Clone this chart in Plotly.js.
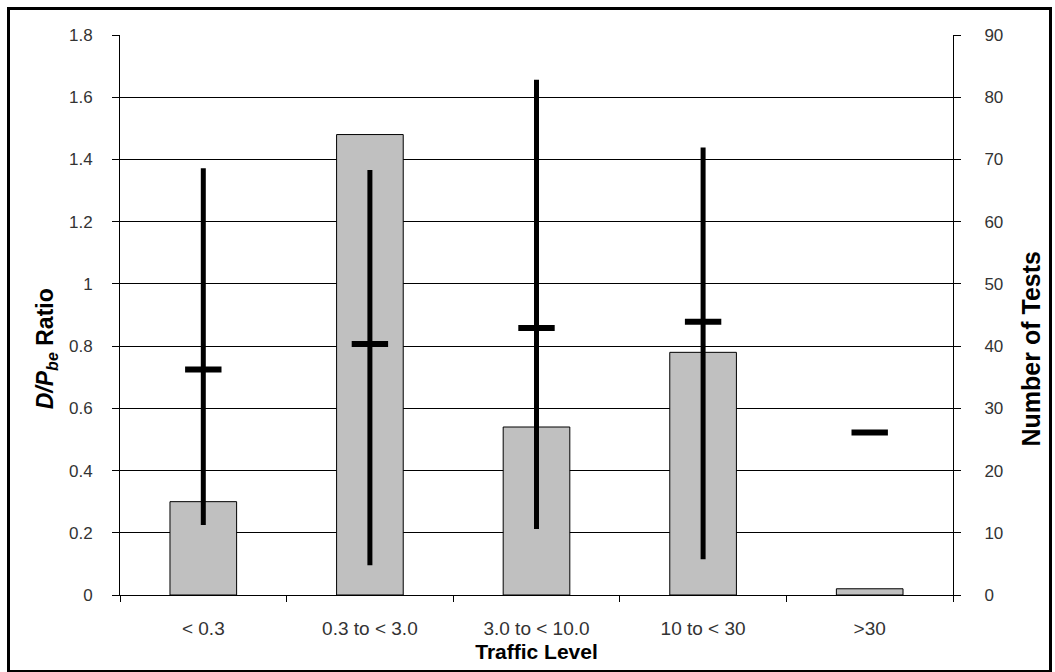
<!DOCTYPE html>
<html>
<head>
<meta charset="utf-8">
<script src="https://cdn.plot.ly/plotly-3.0.1.min.js"></script>
<style>
  html, body { margin: 0; padding: 0; background: #fff; }
  #wrap { position: relative; width: 1055px; height: 672px; }
  #chart { position: absolute; left: 0; top: 0; width: 1055px; height: 672px; }
  #frame { position: absolute; left: 7px; top: 7px; width: 1039px; height: 660px; border: 3px solid #000; pointer-events: none; }
</style>
</head>
<body>
<div id="wrap">
  <div id="chart"></div>
  <div id="frame"></div>
</div>
<script>
const categories = ['< 0.3', '0.3 to < 3.0', '3.0 to < 10.0', '10 to < 30', '>30'];
const numTests = [15, 74, 27, 39, 1];
const ratioMean = [0.725, 0.807, 0.858, 0.878, 0.522];
const ratioMin = [0.225, 0.096, 0.212, 0.115, null];
const ratioMax = [1.372, 1.366, 1.656, 1.438, null];
const ratioTicks = [0, 0.2, 0.4, 0.6, 0.8, 1, 1.2, 1.4, 1.6, 1.8];
const ratioTickText = ['0', '0.2', '0.4', '0.6', '0.8', '1', '1.2', '1.4', '1.6', '1.8'];
const countTicks = [0, 10, 20, 30, 40, 50, 60, 70, 80, 90];

const errPlus = ratioMax.map((v, i) => v == null ? null : v - ratioMean[i]);
const errMinus = ratioMin.map((v, i) => v == null ? null : ratioMean[i] - v);

const FAM = 'Liberation Sans, Arial, sans-serif';
const yTickFont = { family: FAM, size: 17, color: '#333' };
const xTickFont = { family: FAM, size: 19, color: '#333' };

const traces = [
  {
    type: 'bar',
    x: categories,
    y: numTests,
    xaxis: 'x',
    yaxis: 'y',
    width: 0.4,
    marker: { color: '#C0C0C0', line: { color: '#000', width: 1 } },
    showlegend: false
  },
  {
    type: 'scatter',
    mode: 'markers',
    x: categories,
    y: ratioMean,
    xaxis: 'x',
    yaxis: 'y2',
    marker: { symbol: 'line-ew', size: 26, color: '#000', line: { color: '#000', width: 6 } },
    error_y: {
      type: 'data',
      symmetric: false,
      array: errPlus,
      arrayminus: errMinus,
      color: '#000',
      thickness: 5,
      width: 0
    },
    showlegend: false
  }
];

const layout = {
  width: 1055,
  height: 672,
  margin: { l: 120, r: 102, t: 35, b: 77 },
  paper_bgcolor: '#fff',
  plot_bgcolor: '#fff',
  showlegend: false,
  xaxis: {
    type: 'category',
    categoryorder: 'array',
    categoryarray: categories,
    tickson: 'boundaries',
    ticks: 'outside',
    ticklen: 6,
    tickwidth: 1,
    tickcolor: '#000',
    ticklabelstandoff: 16,
    showline: true,
    linecolor: '#000',
    linewidth: 1,
    showgrid: false,
    tickfont: xTickFont,
    title: { text: 'Traffic Level', font: { family: FAM, size: 21, color: '#000', weight: 'bold' }, standoff: 6 },
    automargin: false
  },
  yaxis: {
    side: 'right',
    range: [0, 90],
    tickvals: countTicks,
    ticks: 'outside',
    ticklen: 7,
    tickcolor: '#000',
    ticklabelstandoff: 20,
    showline: true,
    linecolor: '#000',
    linewidth: 1,
    showgrid: true,
    gridcolor: '#000',
    gridwidth: 1,
    zeroline: false,
    tickfont: yTickFont,
    automargin: false
  },
  yaxis2: {
    overlaying: 'y',
    side: 'left',
    range: [0, 1.8],
    tickvals: ratioTicks,
    ticktext: ratioTickText,
    ticks: 'outside',
    ticklen: 7,
    tickcolor: '#000',
    ticklabelstandoff: 16,
    showline: true,
    linecolor: '#000',
    linewidth: 1,
    showgrid: false,
    zeroline: false,
    tickfont: yTickFont,
    automargin: false
  },
  annotations: [
    {
      text: '<i>D/P<sub>be</sub></i> Ratio',
      xref: 'paper', yref: 'paper',
      x: -0.088, y: 0.44,
      xanchor: 'center', yanchor: 'middle',
      textangle: -90,
      showarrow: false,
      font: { family: FAM, size: 23, color: '#000', weight: 'bold' }
    },
    {
      text: 'Number of Tests',
      xref: 'paper', yref: 'paper',
      x: 1.0935, y: 0.44,
      xanchor: 'center', yanchor: 'middle',
      textangle: -90,
      showarrow: false,
      font: { family: FAM, size: 25, color: '#000', weight: 'bold' }
    }
  ]
};

Plotly.newPlot('chart', traces, layout, { displayModeBar: false, staticPlot: true });
</script>
</body>
</html>
